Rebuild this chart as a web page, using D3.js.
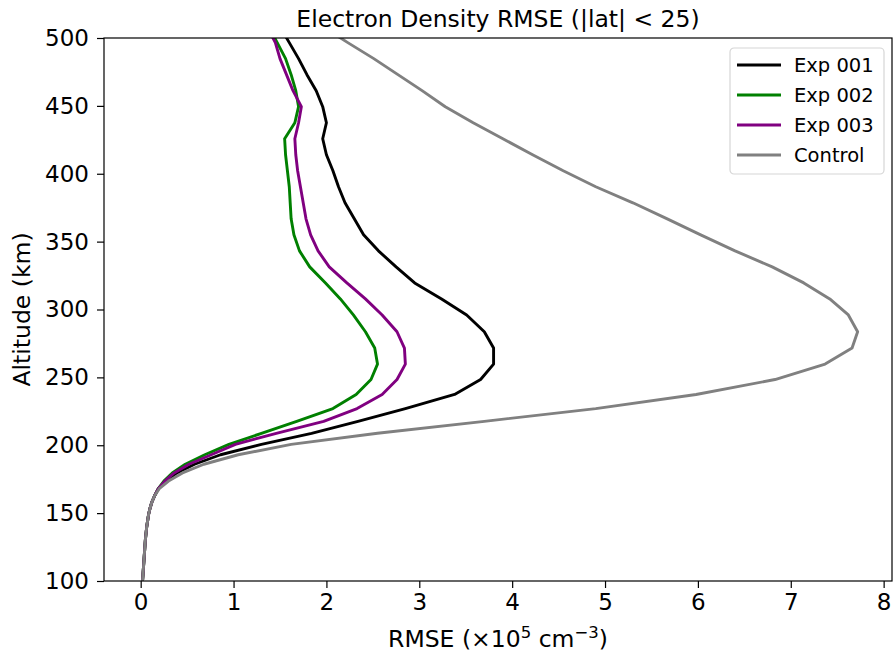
<!DOCTYPE html>
<html>
<head>
<meta charset="utf-8">
<script src="https://cdn.jsdelivr.net/npm/d3@7"></script>
<style>
  body { margin: 0; background: #fff; }
  svg text { font-family: "DejaVu Sans", sans-serif; fill: #000; }
</style>
</head>
<body>
<svg id="chart"></svg>
<script>
// model altitude levels (km) - spacing grows with height
var altitudes = [100, 110, 120, 130, 140, 149, 153.4, 158, 162.8, 168,
                 173.6, 179.6, 186, 193, 200.6, 208.8, 217.6, 227, 237.4, 248.4,
                 259.8, 271.6, 283.6, 296, 307.8, 319.6, 331.4, 343.2, 355, 366.8,
                 378.6, 390.4, 402.2, 414, 425.8, 437.6, 449.4, 461.2, 473, 484.8,
                 496.6, 508.4];

// RMSE values (x10^5 cm^-3), one per level
var exp001 = [0.02, 0.03, 0.04, 0.05, 0.065, 0.085, 0.10, 0.12, 0.15, 0.19,
              0.27, 0.39, 0.58, 0.86, 1.30, 1.84, 2.34, 2.85, 3.38, 3.66,
              3.80, 3.80, 3.70, 3.51, 3.24, 2.95, 2.75, 2.56, 2.40, 2.30,
              2.20, 2.13, 2.07, 2.00, 1.96, 2.00, 1.96, 1.89, 1.79, 1.70,
              1.60, 1.50];
var exp002 = [0.02, 0.03, 0.04, 0.05, 0.065, 0.085, 0.10, 0.12, 0.15, 0.19,
              0.25, 0.34, 0.48, 0.69, 0.95, 1.30, 1.68, 2.07, 2.32, 2.48,
              2.55, 2.52, 2.42, 2.29, 2.15, 1.99, 1.82, 1.71, 1.65, 1.62,
              1.61, 1.60, 1.58, 1.56, 1.55, 1.66, 1.70, 1.67, 1.62, 1.56,
              1.47, 1.38];
var exp003 = [0.02, 0.03, 0.04, 0.05, 0.065, 0.085, 0.10, 0.12, 0.15, 0.19,
              0.26, 0.36, 0.52, 0.76, 1.02, 1.46, 1.97, 2.33, 2.60, 2.76,
              2.85, 2.84, 2.76, 2.60, 2.42, 2.22, 2.03, 1.91, 1.83, 1.78,
              1.75, 1.72, 1.69, 1.67, 1.66, 1.70, 1.73, 1.64, 1.57, 1.50,
              1.45, 1.36];
var control = [0.02, 0.03, 0.04, 0.05, 0.065, 0.085, 0.10, 0.12, 0.15, 0.20,
               0.30, 0.45, 0.68, 1.05, 1.62, 2.55, 3.70, 4.90, 5.98, 6.83,
               7.37, 7.66, 7.72, 7.62, 7.42, 7.14, 6.80, 6.40, 6.03, 5.67,
               5.30, 4.90, 4.55, 4.22, 3.90, 3.58, 3.28, 3.03, 2.77, 2.51,
               2.23, 1.96];

var seriesNames = ["Exp 001", "Exp 002", "Exp 003", "Control"];
var seriesColors = ["#000000", "#008000", "#800080", "#808080"];
var seriesValues = [exp001, exp002, exp003, control];

var xTicks = [0, 1, 2, 3, 4, 5, 6, 7, 8];
var yTicks = [100, 150, 200, 250, 300, 350, 400, 450, 500];

var width = 893,
    height = 656,
    margin = {left: 104, right: 1, top: 38, bottom: 75};

var svg = d3.select("#chart")
    .attr("width", width)
    .attr("height", height);

var x = d3.scaleLinear()
    .domain([-0.395, 8.09])
    .range([margin.left, width - margin.right]);
var y = d3.scaleLinear()
    .domain([100, 500])
    .range([height - margin.bottom, margin.top]);

var plot = svg.append("g");

// clip lines to the axes box
svg.append("clipPath").attr("id", "clip")
    .append("rect")
    .attr("x", margin.left).attr("y", margin.top)
    .attr("width", x.range()[1] - margin.left)
    .attr("height", y.range()[0] - margin.top);

var line = d3.line()
    .x(function (d) { return x(d[0]); })
    .y(function (d) { return y(d[1]); });

seriesValues.forEach(function (vals, i) {
    plot.append("path")
        .datum(vals.map(function (v, j) { return [v, altitudes[j]]; }))
        .attr("clip-path", "url(#clip)")
        .attr("fill", "none")
        .attr("stroke", seriesColors[i])
        .attr("stroke-width", 2.9)
        .attr("stroke-linejoin", "round")
        .attr("d", line);
});

// axes
var xAxis = svg.append("g")
    .attr("transform", "translate(0," + y.range()[0] + ")")
    .call(d3.axisBottom(x).tickValues(xTicks).tickSize(7).tickPadding(6));
var yAxis = svg.append("g")
    .attr("transform", "translate(" + margin.left + ",0)")
    .call(d3.axisLeft(y).tickValues(yTicks).tickSize(7).tickPadding(8));

[xAxis, yAxis].forEach(function (ax) {
    ax.select(".domain").remove();
    ax.selectAll("line").attr("stroke", "#000").attr("stroke-width", 1.2);
    ax.selectAll("text").style("font-size", "23px").attr("fill", "#000");
});

// frame
svg.append("rect")
    .attr("x", margin.left).attr("y", margin.top)
    .attr("width", x.range()[1] - margin.left)
    .attr("height", y.range()[0] - margin.top)
    .attr("fill", "none")
    .attr("stroke", "#000")
    .attr("stroke-width", 1.2);

// title
svg.append("text")
    .attr("x", (margin.left + x.range()[1]) / 2)
    .attr("y", 27)
    .attr("text-anchor", "middle")
    .style("font-size", "23.5px")
    .text("Electron Density RMSE (|lat| < 25)");

// axis labels
var xl = svg.append("text")
    .attr("x", (margin.left + x.range()[1]) / 2)
    .attr("y", 647)
    .attr("text-anchor", "middle")
    .style("font-size", "23.5px");
xl.append("tspan").text("RMSE (\u00d710");
xl.append("tspan").attr("dy", -9).style("font-size", "16.5px").text("5");
xl.append("tspan").attr("dy", 9).text(" cm");
xl.append("tspan").attr("dy", -9).style("font-size", "16.5px").text("\u22123");
xl.append("tspan").attr("dy", 9).text(")");

svg.append("text")
    .attr("transform", "translate(30," + (y.range()[0] + margin.top) / 2 + ") rotate(-90)")
    .attr("text-anchor", "middle")
    .style("font-size", "23.5px")
    .text("Altitude (km)");

// legend
var legend = svg.append("g").attr("transform", "translate(730,48)");
legend.append("rect")
    .attr("width", 154).attr("height", 126)
    .attr("rx", 4)
    .attr("fill", "#fff").attr("fill-opacity", 0.8)
    .attr("stroke", "#d6d6d6").attr("stroke-width", 1.2);
seriesNames.forEach(function (name, i) {
    var row = legend.append("g").attr("transform", "translate(0," + (17 + i * 30) + ")");
    row.append("line")
        .attr("x1", 7).attr("x2", 51)
        .attr("stroke", seriesColors[i]).attr("stroke-width", 2.9);
    row.append("text")
        .attr("x", 64).attr("dy", "0.35em")
        .style("font-size", "19.5px")
        .text(name);
});
</script>
</body>
</html>
